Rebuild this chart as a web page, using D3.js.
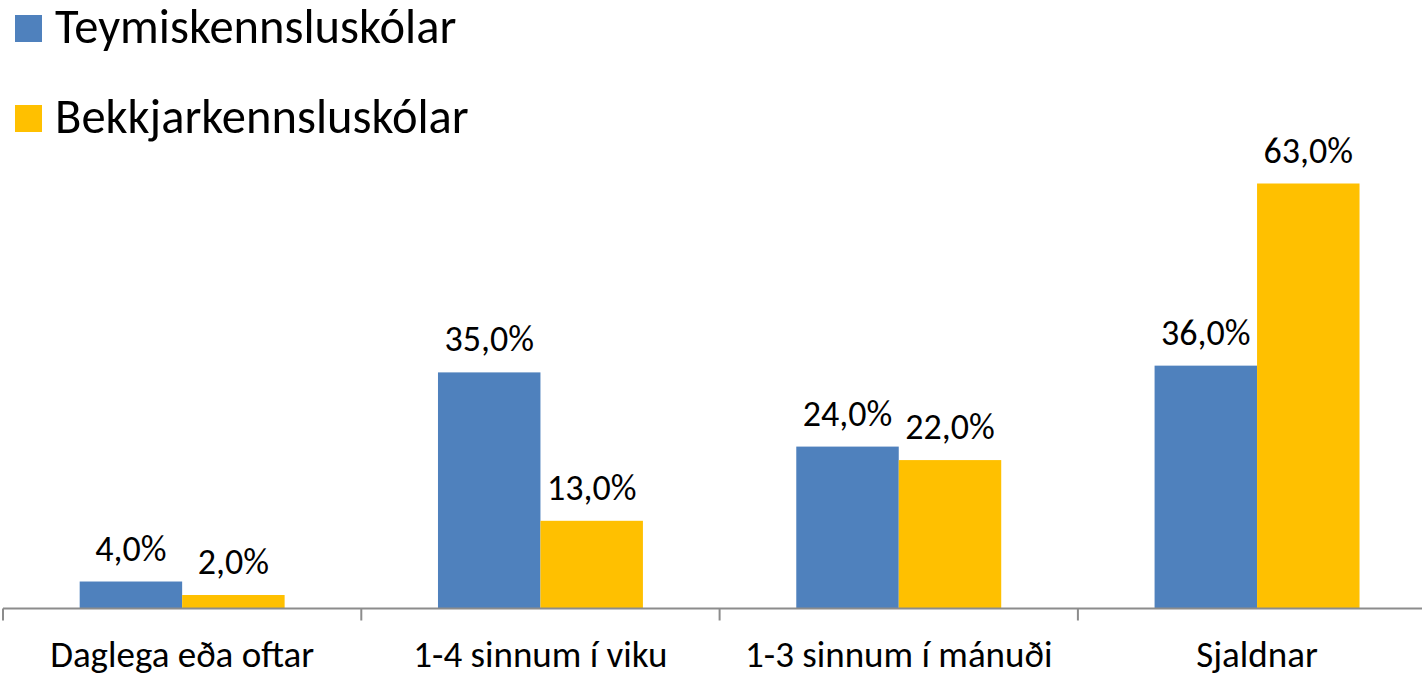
<!DOCTYPE html>
<html>
<head>
<meta charset="utf-8">
<script src="https://cdn.jsdelivr.net/npm/d3@7"></script>
<style>
  body { margin: 0; background: #fff; }
  svg { display: block; font-family: Calibri, Carlito, Lato, sans-serif; }
</style>
</head>
<body>
<svg id="chart" width="1422" height="676"></svg>
<script>
const categories = ["Daglega eða oftar", "1-4 sinnum í viku", "1-3 sinnum í mánuði", "Sjaldnar"];
const seriesNames = ["Teymiskennsluskólar", "Bekkjarkennsluskólar"];
const teymis = [4, 35, 24, 36];
const bekkjar = [2, 13, 22, 63];
const colors = ["#4F81BD", "#FFC000"];

const width = 1422, height = 676;
const axisY = 608.5;
const fmt = v => d3.format(".1f")(v).replace(".", ",") + "%";

const svg = d3.select("#chart");

const x = d3.scaleBand()
    .domain(categories)
    .range([3, 3 + 358.3 * categories.length])
    .paddingInner(0)
    .paddingOuter(0);

const xs = d3.scaleBand()
    .domain(seriesNames)
    .range([x.bandwidth() * 0.214, x.bandwidth() * 0.786]);

const y = d3.scaleLinear()
    .domain([0, 63])
    .range([axisY, 183.5]);

const rows = categories.map((c, i) => ({ cat: c, vals: [teymis[i], bekkjar[i]] }));

const group = svg.selectAll("g.cat")
  .data(rows)
  .enter().append("g")
    .attr("class", "cat")
    .attr("transform", d => `translate(${x(d.cat)},0)`);

group.selectAll("rect")
  .data(d => d.vals.map((v, j) => ({ name: seriesNames[j], v, j })))
  .enter().append("rect")
    .attr("x", d => xs(d.name))
    .attr("width", xs.bandwidth())
    .attr("y", d => y(d.v))
    .attr("height", d => axisY - y(d.v))
    .attr("fill", d => colors[d.j]);

group.selectAll("text.val")
  .data(d => d.vals.map((v, j) => ({ name: seriesNames[j], v, j })))
  .enter().append("text")
    .attr("class", "val")
    .attr("x", d => xs(d.name) + xs.bandwidth() / 2)
    .attr("y", d => y(d.v) - 21)
    .attr("text-anchor", "middle")
    .style("font-size", "36px")
    .attr("fill", "#000")
    .text(d => fmt(d.v));

// axis line + ticks at band edges
const ax = svg.append("g")
    .attr("transform", `translate(0,${axisY})`);
ax.append("path")
    .attr("d", `M3,0H${width}`)
    .attr("stroke", "#8c8c8c").attr("stroke-width", 2).attr("fill", "none");
const tickPos = categories.map(c => x(c)).concat([x.range()[1]]);
ax.selectAll("line.t")
  .data(tickPos)
  .enter().append("line")
    .attr("x1", d => d).attr("x2", d => d)
    .attr("y1", 0).attr("y2", 12)
    .attr("stroke", "#8c8c8c").attr("stroke-width", 2);

svg.selectAll("text.catlabel")
  .data(categories)
  .enter().append("text")
    .attr("class", "catlabel")
    .attr("x", d => x(d) + x.bandwidth() / 2)
    .attr("y", 667)
    .attr("text-anchor", "middle")
    .style("font-size", "37px")
    .text(d => d);

// legend
const legend = svg.selectAll("g.leg")
  .data(seriesNames)
  .enter().append("g")
    .attr("class", "leg")
    .attr("transform", (d, i) => `translate(15,${15 + i * 90})`);

legend.append("rect")
    .attr("width", 27).attr("height", 27)
    .attr("fill", (d, i) => colors[i]);

legend.append("text")
    .attr("x", 40).attr("y", 28)
    .style("font-size", "48.5px")
    .text(d => d);
</script>
</body>
</html>
